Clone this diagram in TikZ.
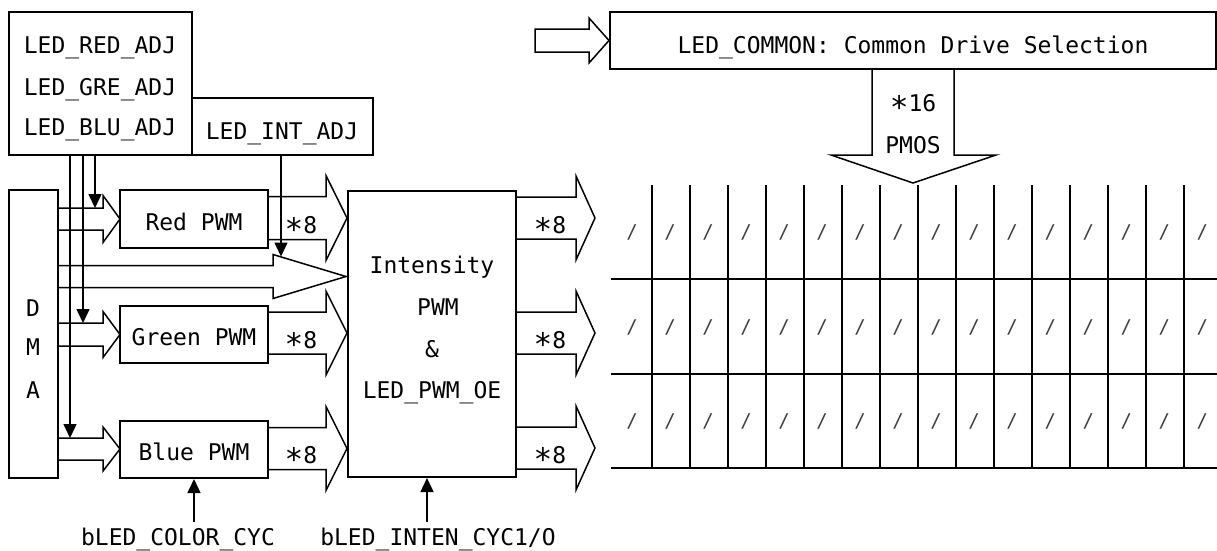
\documentclass[tikz,border=0pt]{standalone}
\usepackage{fontspec}
\usepackage{graphicx}
\newfontfamily\dmono{DejaVu Sans Mono}
\usetikzlibrary{arrows.meta,calc}
\newcommand{\farrowR}[6]{\draw[fat] (#1,{#4-#5}) -- (#2,{#4-#5}) -- (#2,{#4-#6}) -- (#3,#4) -- (#2,{#4+#6}) -- (#2,{#4+#5}) -- (#1,{#4+#5});}
\newcommand{\myast}{\raisebox{-0.3em}{\scalebox{1.35}{*}}}
\begin{document}
\begin{tikzpicture}[x=1pt,y=-1pt,
  box/.style={draw, line width=2pt, inner sep=0pt},
  fat/.style={draw, line width=1.5pt, line join=miter},
  ctl/.style={line width=1.5pt, -{Triangle[length=14pt,width=13pt]}},
  txt/.style={font=\dmono\fontsize{23}{41}\selectfont, inner sep=0pt, text height=16.8pt, text depth=0pt},
  gridl/.style={line width=2pt},
  slash/.style={font=\dmono\fontsize{19}{19}\selectfont, text=black!75, inner sep=0pt}]
\useasboundingbox (0,0) rectangle (1217,550);

% boxes
\node[box, minimum width=183pt, minimum height=143pt] (adj) at (100.5,83.5) {};
\node[box, minimum width=181pt, minimum height=57pt] (intadj) at (282.5,126.5) {};
\node[box, minimum width=49pt, minimum height=288pt] (dma) at (33.5,334) {};
\node[box, minimum width=148pt, minimum height=58pt] (red) at (194,219) {};
\node[box, minimum width=148pt, minimum height=57pt] (green) at (194,334.5) {};
\node[box, minimum width=148pt, minimum height=57pt] (blue) at (194,449.5) {};
\node[box, minimum width=168pt, minimum height=286pt] (inten) at (432,334) {};
\node[box, minimum width=606pt, minimum height=57pt] (common) at (913,40.5) {};

% texts
\node[txt] (t1) at (100,45) {LED\_RED\_ADJ};
\node[txt] (t2) at (100,87) {LED\_GRE\_ADJ};
\node[txt] (t3) at (100,127) {LED\_BLU\_ADJ};
\node[txt] (t4) at (282,131) {LED\_INT\_ADJ};
\node[txt] (d1) at (33,308) {D};
\node[txt] (d2) at (33,347) {M};
\node[txt] (d3) at (33,390) {A};
\node[txt] (r1) at (194,222) {Red PWM};
\node[txt] (g1) at (194,337) {Green PWM};
\node[txt] (b1) at (194,452) {Blue PWM};
\node[txt] (i1) at (432,265) {Intensity};
\node[txt] (i2) at (438,307) {PWM};
\node[txt] (i3) at (432,349) {\&};
\node[txt] (i4) at (432,390) {LED\_PWM\_OE};
\node[txt] (c1) at (913,45) {LED\_COMMON: Common Drive Selection};
\node[txt] (p1) at (913,103) {\myast16};
\node[txt] (p2) at (913,145) {PMOS};
\node[txt] (s1) at (301,225) {\myast8};
\node[txt] (s2) at (301,340) {\myast8};
\node[txt] (s3) at (301,455) {\myast8};
\node[txt] (s4) at (550,225) {\myast8};
\node[txt] (s5) at (550,340) {\myast8};
\node[txt] (s6) at (550,455) {\myast8};
\node[txt] (bc) at (178,537) {bLED\_COLOR\_CYC};
\node[txt] (bi) at (438,537) {bLED\_INTEN\_CYC1/O};

% fat arrows DMA -> PWM
\farrowR{58}{103}{120}{219}{11}{23.5}
\farrowR{58}{103}{120}{334.5}{11.5}{23}
\farrowR{58}{103}{120}{449}{11}{22}
% DMA -> intensity
\farrowR{58}{273}{346}{276.5}{11}{22}
% PWM -> intensity
\farrowR{268}{326}{347}{218}{21.5}{42.5}
\farrowR{268}{326}{347}{333}{21}{42}
\farrowR{268}{326}{347}{448.5}{21}{42}
% intensity -> grid
\farrowR{516}{576}{595}{218}{21}{42}
\farrowR{516}{576}{595}{333}{21}{42}
\farrowR{516}{576}{595}{448}{21}{42}
% common input
\draw[fat] (535,29) -- (589,29) -- (589,18) -- (common.west) -- (589,63) -- (589,52) -- (535,52) -- cycle;
% PMOS down arrow
\draw[fat] (872,69) -- (872,155) -- (831,155) -- (913,183) -- (996,155) -- (954,155) -- (954,69);

% ADJ lines
\coordinate (a1) at (95,155);
\coordinate (a2) at (83,155);
\coordinate (a3) at (70,155);
\coordinate (e1) at (95,208);
\coordinate (e2) at (83,323);
\coordinate (e3) at (70,438);
\draw[ctl] (a1) -- (e1);
\draw[ctl] (a2) -- (e2);
\draw[ctl] (a3) -- (e3);
\coordinate (ia) at (281,155);
\coordinate (ie) at (281,256.5);
\draw[ctl] (ia) -- (ie);

% control inputs
\coordinate (cc) at (194,522);
\coordinate (ci) at (427,522);
\draw[ctl] (cc) -- (blue.south);
\draw[ctl] (ci) -- (ci |- inten.south);

% grid
\foreach \i in {0,...,14} \draw[gridl] ({652+38.02*\i},185) -- ({652+38.02*\i},468);
\foreach \yy in {279,374,468} \draw[gridl] (611,\yy) -- (1217,\yy);
\foreach \r in {232,327,421} \foreach \i in {0,...,15} \node[slash] at ({632+38.02*\i},\r) {/};
\end{tikzpicture}
\end{document}
